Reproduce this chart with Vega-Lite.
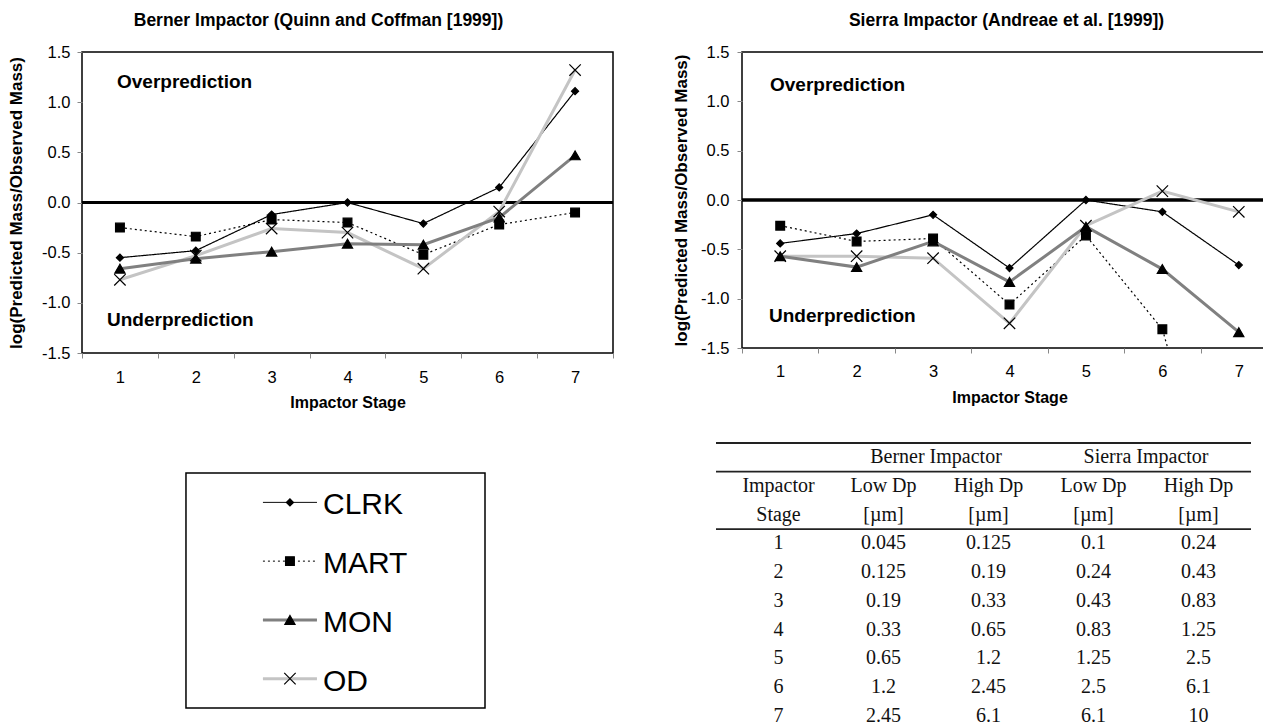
{
  "$schema": "https://vega.github.io/schema/vega-lite/v6.json",
  "padding": {"left": 6, "top": 10, "right": 0, "bottom": 0},
  "autosize": {"type": "pad"},
  "spacing": 55,
  "datasets": {
    "berner": [
      {"series": "OD", "stage": 1, "value": -0.77}, {"series": "OD", "stage": 2, "value": -0.53}, {"series": "OD", "stage": 3, "value": -0.26}, {"series": "OD", "stage": 4, "value": -0.30}, {"series": "OD", "stage": 5, "value": -0.66}, {"series": "OD", "stage": 6, "value": -0.09}, {"series": "OD", "stage": 7, "value": 1.32},
      {"series": "MON", "stage": 1, "value": -0.66}, {"series": "MON", "stage": 2, "value": -0.56}, {"series": "MON", "stage": 3, "value": -0.49}, {"series": "MON", "stage": 4, "value": -0.41}, {"series": "MON", "stage": 5, "value": -0.42}, {"series": "MON", "stage": 6, "value": -0.15}, {"series": "MON", "stage": 7, "value": 0.47},
      {"series": "MART", "stage": 1, "value": -0.25}, {"series": "MART", "stage": 2, "value": -0.34}, {"series": "MART", "stage": 3, "value": -0.17}, {"series": "MART", "stage": 4, "value": -0.20}, {"series": "MART", "stage": 5, "value": -0.52}, {"series": "MART", "stage": 6, "value": -0.22}, {"series": "MART", "stage": 7, "value": -0.10},
      {"series": "CLRK", "stage": 1, "value": -0.55}, {"series": "CLRK", "stage": 2, "value": -0.48}, {"series": "CLRK", "stage": 3, "value": -0.12}, {"series": "CLRK", "stage": 4, "value": 0.0}, {"series": "CLRK", "stage": 5, "value": -0.21}, {"series": "CLRK", "stage": 6, "value": 0.15}, {"series": "CLRK", "stage": 7, "value": 1.11}
    ],
    "sierra": [
      {"series": "OD", "stage": 1, "value": -0.57}, {"series": "OD", "stage": 2, "value": -0.57}, {"series": "OD", "stage": 3, "value": -0.59}, {"series": "OD", "stage": 4, "value": -1.25}, {"series": "OD", "stage": 5, "value": -0.26}, {"series": "OD", "stage": 6, "value": 0.09}, {"series": "OD", "stage": 7, "value": -0.12},
      {"series": "MON", "stage": 1, "value": -0.57}, {"series": "MON", "stage": 2, "value": -0.68}, {"series": "MON", "stage": 3, "value": -0.42}, {"series": "MON", "stage": 4, "value": -0.83}, {"series": "MON", "stage": 5, "value": -0.27}, {"series": "MON", "stage": 6, "value": -0.70}, {"series": "MON", "stage": 7, "value": -1.34},
      {"series": "MART", "stage": 1, "value": -0.26}, {"series": "MART", "stage": 2, "value": -0.42}, {"series": "MART", "stage": 3, "value": -0.39}, {"series": "MART", "stage": 4, "value": -1.06}, {"series": "MART", "stage": 5, "value": -0.36}, {"series": "MART", "stage": 6, "value": -1.31}, {"series": "MART", "stage": 7, "value": -4.0},
      {"series": "CLRK", "stage": 1, "value": -0.44}, {"series": "CLRK", "stage": 2, "value": -0.34}, {"series": "CLRK", "stage": 3, "value": -0.15}, {"series": "CLRK", "stage": 4, "value": -0.69}, {"series": "CLRK", "stage": 5, "value": 0.0}, {"series": "CLRK", "stage": 6, "value": -0.12}, {"series": "CLRK", "stage": 7, "value": -0.66}
    ],
    "series": [{"series": "CLRK"}, {"series": "MART"}, {"series": "MON"}, {"series": "OD"}],
    "box": [{"part": "frame"}],
    "zero": [{"level": 0}],
    "tablerules": [{"row": "g"}, {"row": "h1"}, {"row": "1"}],
    "groups": [{"row": "g", "col": "BHigh", "text": "Berner Impactor"}, {"row": "g", "col": "SHigh", "text": "Sierra Impactor"}],
    "cells": [
      {"row": "h1", "col": "Stage", "text": "Impactor"}, {"row": "h1", "col": "BLow", "text": "Low Dp"}, {"row": "h1", "col": "BHigh", "text": "High Dp"}, {"row": "h1", "col": "SLow", "text": "Low Dp"}, {"row": "h1", "col": "SHigh", "text": "High Dp"},
      {"row": "h2", "col": "Stage", "text": "Stage"}, {"row": "h2", "col": "BLow", "text": "[µm]"}, {"row": "h2", "col": "BHigh", "text": "[µm]"}, {"row": "h2", "col": "SLow", "text": "[µm]"}, {"row": "h2", "col": "SHigh", "text": "[µm]"},
      {"row": "1", "col": "Stage", "text": "1"}, {"row": "1", "col": "BLow", "text": "0.045"}, {"row": "1", "col": "BHigh", "text": "0.125"}, {"row": "1", "col": "SLow", "text": "0.1"}, {"row": "1", "col": "SHigh", "text": "0.24"},
      {"row": "2", "col": "Stage", "text": "2"}, {"row": "2", "col": "BLow", "text": "0.125"}, {"row": "2", "col": "BHigh", "text": "0.19"}, {"row": "2", "col": "SLow", "text": "0.24"}, {"row": "2", "col": "SHigh", "text": "0.43"},
      {"row": "3", "col": "Stage", "text": "3"}, {"row": "3", "col": "BLow", "text": "0.19"}, {"row": "3", "col": "BHigh", "text": "0.33"}, {"row": "3", "col": "SLow", "text": "0.43"}, {"row": "3", "col": "SHigh", "text": "0.83"},
      {"row": "4", "col": "Stage", "text": "4"}, {"row": "4", "col": "BLow", "text": "0.33"}, {"row": "4", "col": "BHigh", "text": "0.65"}, {"row": "4", "col": "SLow", "text": "0.83"}, {"row": "4", "col": "SHigh", "text": "1.25"},
      {"row": "5", "col": "Stage", "text": "5"}, {"row": "5", "col": "BLow", "text": "0.65"}, {"row": "5", "col": "BHigh", "text": "1.2"}, {"row": "5", "col": "SLow", "text": "1.25"}, {"row": "5", "col": "SHigh", "text": "2.5"},
      {"row": "6", "col": "Stage", "text": "6"}, {"row": "6", "col": "BLow", "text": "1.2"}, {"row": "6", "col": "BHigh", "text": "2.45"}, {"row": "6", "col": "SLow", "text": "2.5"}, {"row": "6", "col": "SHigh", "text": "6.1"},
      {"row": "7", "col": "Stage", "text": "7"}, {"row": "7", "col": "BLow", "text": "2.45"}, {"row": "7", "col": "BHigh", "text": "6.1"}, {"row": "7", "col": "SLow", "text": "6.1"}, {"row": "7", "col": "SHigh", "text": "10"}
    ]
  },
  "hconcat": [
    {
      "spacing": 60,
      "vconcat": [
        {
          "width": 531,
          "height": 301,
          "title": {"text": "Berner Impactor (Quinn and Coffman [1999])", "fontSize": 17.5, "fontWeight": "bold", "font": "Liberation Sans", "color": "black", "anchor": "middle", "frame": "group", "dx": -29, "offset": 15},
          "data": {"name": "berner"},
          "layer": [
            {
              "data": {"name": "zero"},
              "mark": {"type": "rule", "color": "black", "strokeWidth": 3},
              "encoding": {"y": {"field": "level", "type": "quantitative", "scale": {"domain": [-1.5, 1.5], "nice": false, "zero": false}}}
            },
            {
              "transform": [{"filter": "datum.series === 'CLRK' || datum.series === 'MART'"}],
              "mark": {"type": "line", "clip": true, "strokeWidth": 1.2},
              "encoding": {
                "x": {"field": "stage", "type": "ordinal", "scale": {"domain": [1, 2, 3, 4, 5, 6, 7], "paddingInner": 0, "paddingOuter": 0}, "axis": {"title": "Impactor Stage", "labelAngle": 0, "tickBand": "extent", "labelPadding": 11, "titlePadding": 9}},
                "y": {"field": "value", "type": "quantitative", "scale": {"domain": [-1.5, 1.5], "nice": false, "zero": false}, "axis": {"title": "log(Predicted Mass/Observed Mass)", "values": [-1.5, -1, -0.5, 0, 0.5, 1, 1.5], "format": ".1f", "labelPadding": 7, "titlePadding": 16, "titleFontSize": 17}},
                "color": {"field": "series", "type": "nominal", "scale": {"domain": ["CLRK", "MART", "MON", "OD"], "range": ["#000000", "#000000", "#808080", "#c4c4c4"]}, "legend": null},
                "strokeDash": {"field": "series", "type": "nominal", "scale": {"domain": ["CLRK", "MART", "MON", "OD"], "range": [[1, 0], [2, 3], [1, 0], [1, 0]]}, "legend": null}
              }
            },
            {
              "transform": [{"filter": "datum.series === 'MON' || datum.series === 'OD'"}],
              "mark": {"type": "line", "clip": true, "strokeWidth": 3},
              "encoding": {
                "x": {"field": "stage", "type": "ordinal"},
                "y": {"field": "value", "type": "quantitative"},
                "color": {"field": "series", "type": "nominal", "legend": null}
              }
            },
            {
              "mark": {"type": "point", "fill": "black", "stroke": "black", "strokeWidth": 1.2, "opacity": 1, "fillOpacity": 1, "clip": true},
              "encoding": {
                "x": {"field": "stage", "type": "ordinal"},
                "y": {"field": "value", "type": "quantitative"},
                "shape": {"field": "series", "type": "nominal", "scale": {"domain": ["CLRK", "MART", "MON", "OD"], "range": ["diamond", "square", "triangle-up", "M-1,-1L1,1M-1,1L1,-1"]}, "legend": null},
                "size": {"field": "series", "type": "ordinal", "scale": {"domain": ["CLRK", "MART", "MON", "OD"], "range": [50, 130]}, "legend": null}
              }
            },
            {
              "data": {"values": [{"label": "Overprediction", "stage": 1, "value": 1.2}]},
              "mark": {"type": "text", "align": "left", "baseline": "middle", "dx": 35, "fontSize": 19, "fontWeight": "bold", "font": "Liberation Sans", "color": "black"},
              "encoding": {"x": {"field": "stage", "type": "ordinal", "bandPosition": 0}, "y": {"field": "value", "type": "quantitative"}, "text": {"field": "label"}}
            },
            {
              "data": {"values": [{"label": "Underprediction", "stage": 1, "value": -1.17}]},
              "mark": {"type": "text", "align": "left", "baseline": "middle", "dx": 25, "fontSize": 19, "fontWeight": "bold", "font": "Liberation Sans", "color": "black"},
              "encoding": {"x": {"field": "stage", "type": "ordinal", "bandPosition": 0}, "y": {"field": "value", "type": "quantitative"}, "text": {"field": "label"}}
            }
          ]
        },
        {
          "width": 403,
          "height": 235,
          "view": {"stroke": null},
          "data": {"name": "series"},
          "layer": [
            {
              "data": {"name": "box"},
              "mark": {"type": "rect", "fill": "transparent", "stroke": "black", "strokeWidth": 1.5},
              "encoding": {
                "x": {"datum": 0.258, "type": "quantitative", "scale": {"domain": [0, 1], "nice": false, "zero": false}, "axis": null},
                "x2": {"datum": 1}
              }
            },
            {
              "mark": {"type": "rule"},
              "encoding": {
                "y": {"field": "series", "type": "nominal", "scale": {"domain": ["CLRK", "MART", "MON", "OD"], "paddingInner": 0, "paddingOuter": 0}, "axis": null},
                "x": {"datum": 0.449, "type": "quantitative", "axis": null},
                "x2": {"datum": 0.583},
                "color": {"field": "series", "type": "nominal", "scale": {"domain": ["CLRK", "MART", "MON", "OD"], "range": ["#000000", "#000000", "#808080", "#c4c4c4"]}, "legend": null},
                "strokeDash": {"field": "series", "type": "nominal", "scale": {"domain": ["CLRK", "MART", "MON", "OD"], "range": [[1, 0], [2, 3], [1, 0], [1, 0]]}, "legend": null}
              }
            },
            {
              "transform": [{"filter": "datum.series === 'MON' || datum.series === 'OD'"}],
              "mark": {"type": "rule", "strokeWidth": 3},
              "encoding": {
                "y": {"field": "series", "type": "nominal"},
                "x": {"datum": 0.449, "type": "quantitative", "axis": null},
                "x2": {"datum": 0.583},
                "color": {"field": "series", "type": "nominal", "legend": null}
              }
            },
            {
              "mark": {"type": "point", "fill": "black", "stroke": "black", "strokeWidth": 1.2, "opacity": 1, "fillOpacity": 1},
              "encoding": {
                "y": {"field": "series", "type": "nominal"},
                "x": {"datum": 0.516, "type": "quantitative", "axis": null},
                "shape": {"field": "series", "type": "nominal", "scale": {"domain": ["CLRK", "MART", "MON", "OD"], "range": ["diamond", "square", "triangle-up", "M-1,-1L1,1M-1,1L1,-1"]}, "legend": null},
                "size": {"field": "series", "type": "ordinal", "scale": {"domain": ["CLRK", "MART", "MON", "OD"], "range": [45, 100]}, "legend": null}
              }
            },
            {
              "mark": {"type": "text", "align": "left", "baseline": "middle", "dy": 3, "fontSize": 30, "font": "Liberation Sans", "color": "black"},
              "encoding": {
                "y": {"field": "series", "type": "nominal"},
                "x": {"datum": 0.598, "type": "quantitative", "axis": null},
                "text": {"field": "series"}
              }
            }
          ]
        }
      ]
    },
    {
      "spacing": 35,
      "vconcat": [
        {
          "width": 535,
          "height": 296,
          "title": {"text": "Sierra Impactor (Andreae et al. [1999])", "fontSize": 17.5, "fontWeight": "bold", "font": "Liberation Sans", "color": "black", "anchor": "middle", "frame": "group", "dx": -3, "offset": 15},
          "data": {"name": "sierra"},
          "layer": [
            {
              "data": {"name": "zero"},
              "mark": {"type": "rule", "color": "black", "strokeWidth": 3.5},
              "encoding": {"y": {"field": "level", "type": "quantitative", "scale": {"domain": [-1.5, 1.5], "nice": false, "zero": false}}}
            },
            {
              "transform": [{"filter": "datum.series === 'CLRK' || datum.series === 'MART'"}],
              "mark": {"type": "line", "clip": true, "strokeWidth": 1.2},
              "encoding": {
                "x": {"field": "stage", "type": "ordinal", "scale": {"domain": [1, 2, 3, 4, 5, 6, 7], "paddingInner": 0, "paddingOuter": 0}, "axis": {"title": "Impactor Stage", "labelAngle": 0, "tickBand": "extent", "labelPadding": 10, "titlePadding": 10}},
                "y": {"field": "value", "type": "quantitative", "scale": {"domain": [-1.5, 1.5], "nice": false, "zero": false}, "axis": {"title": "log(Predicted Mass/Observed Mass)", "values": [-1.5, -1, -0.5, 0, 0.5, 1, 1.5], "format": ".1f", "labelPadding": 8, "titlePadding": 10, "titleFontSize": 17}},
                "color": {"field": "series", "type": "nominal", "scale": {"domain": ["CLRK", "MART", "MON", "OD"], "range": ["#000000", "#000000", "#808080", "#c4c4c4"]}, "legend": null},
                "strokeDash": {"field": "series", "type": "nominal", "scale": {"domain": ["CLRK", "MART", "MON", "OD"], "range": [[1, 0], [2, 3], [1, 0], [1, 0]]}, "legend": null}
              }
            },
            {
              "transform": [{"filter": "datum.series === 'MON' || datum.series === 'OD'"}],
              "mark": {"type": "line", "clip": true, "strokeWidth": 3},
              "encoding": {
                "x": {"field": "stage", "type": "ordinal"},
                "y": {"field": "value", "type": "quantitative"},
                "color": {"field": "series", "type": "nominal", "legend": null}
              }
            },
            {
              "mark": {"type": "point", "fill": "black", "stroke": "black", "strokeWidth": 1.2, "opacity": 1, "fillOpacity": 1, "clip": true},
              "encoding": {
                "x": {"field": "stage", "type": "ordinal"},
                "y": {"field": "value", "type": "quantitative"},
                "shape": {"field": "series", "type": "nominal", "scale": {"domain": ["CLRK", "MART", "MON", "OD"], "range": ["diamond", "square", "triangle-up", "M-1,-1L1,1M-1,1L1,-1"]}, "legend": null},
                "size": {"field": "series", "type": "ordinal", "scale": {"domain": ["CLRK", "MART", "MON", "OD"], "range": [50, 130]}, "legend": null}
              }
            },
            {
              "data": {"values": [{"label": "Overprediction", "stage": 1, "value": 1.17}]},
              "mark": {"type": "text", "align": "left", "baseline": "middle", "dx": 28, "fontSize": 19, "fontWeight": "bold", "font": "Liberation Sans", "color": "black"},
              "encoding": {"x": {"field": "stage", "type": "ordinal", "bandPosition": 0}, "y": {"field": "value", "type": "quantitative"}, "text": {"field": "label"}}
            },
            {
              "data": {"values": [{"label": "Underprediction", "stage": 1, "value": -1.175}]},
              "mark": {"type": "text", "align": "left", "baseline": "middle", "dx": 27, "fontSize": 19, "fontWeight": "bold", "font": "Liberation Sans", "color": "black"},
              "encoding": {"x": {"field": "stage", "type": "ordinal", "bandPosition": 0}, "y": {"field": "value", "type": "quantitative"}, "text": {"field": "label"}}
            }
          ]
        },
        {
          "width": 525,
          "height": 287,
          "view": {"stroke": null},
          "resolve": {"scale": {"x": "independent"}},
          "layer": [
            {
              "data": {"name": "tablerules"},
              "mark": {"type": "rule", "color": "#222222", "strokeWidth": 1.8},
              "encoding": {
                "y": {"field": "row", "type": "nominal", "bandPosition": 0, "scale": {"domain": ["g", "h1", "h2", "1", "2", "3", "4", "5", "6", "7"], "paddingInner": 0, "paddingOuter": 0}, "axis": null},
                "x": {"datum": 0, "type": "quantitative", "scale": {"domain": [0, 1], "range": [-26, 509], "nice": false, "zero": false}, "axis": null},
                "x2": {"datum": 1}
              }
            },
            {
              "data": {"name": "cells"},
              "mark": {"type": "text", "font": "Liberation Serif", "fontSize": 20, "baseline": "middle", "align": "center", "dx": -16, "color": "#111111"},
              "encoding": {
                "x": {"field": "col", "type": "nominal", "scale": {"domain": ["Stage", "BLow", "BHigh", "SLow", "SHigh"], "paddingInner": 0, "paddingOuter": 0}, "axis": null},
                "y": {"field": "row", "type": "nominal"},
                "text": {"field": "text"}
              }
            },
            {
              "data": {"name": "groups"},
              "mark": {"type": "text", "font": "Liberation Serif", "fontSize": 20, "baseline": "middle", "align": "center", "dx": -68.5, "color": "#111111"},
              "encoding": {
                "x": {"field": "col", "type": "nominal", "scale": {"domain": ["Stage", "BLow", "BHigh", "SLow", "SHigh"], "paddingInner": 0, "paddingOuter": 0}, "axis": null},
                "y": {"field": "row", "type": "nominal"},
                "text": {"field": "text"}
              }
            }
          ]
        }
      ]
    }
  ],
  "config": {
    "font": "Liberation Sans",
    "locale": {"number": {"decimal": ".", "thousands": ",", "grouping": [3], "currency": ["$", ""], "minus": "-"}},
    "view": {"stroke": "black", "strokeWidth": 1.5},
    "axis": {"labelFont": "Liberation Sans", "labelFontSize": 16.5, "labelColor": "black", "titleFont": "Liberation Sans", "titleFontSize": 16, "titleFontWeight": "bold", "titleColor": "black", "tickColor": "#888888", "tickSize": 5, "domain": false, "grid": false}
  }
}
